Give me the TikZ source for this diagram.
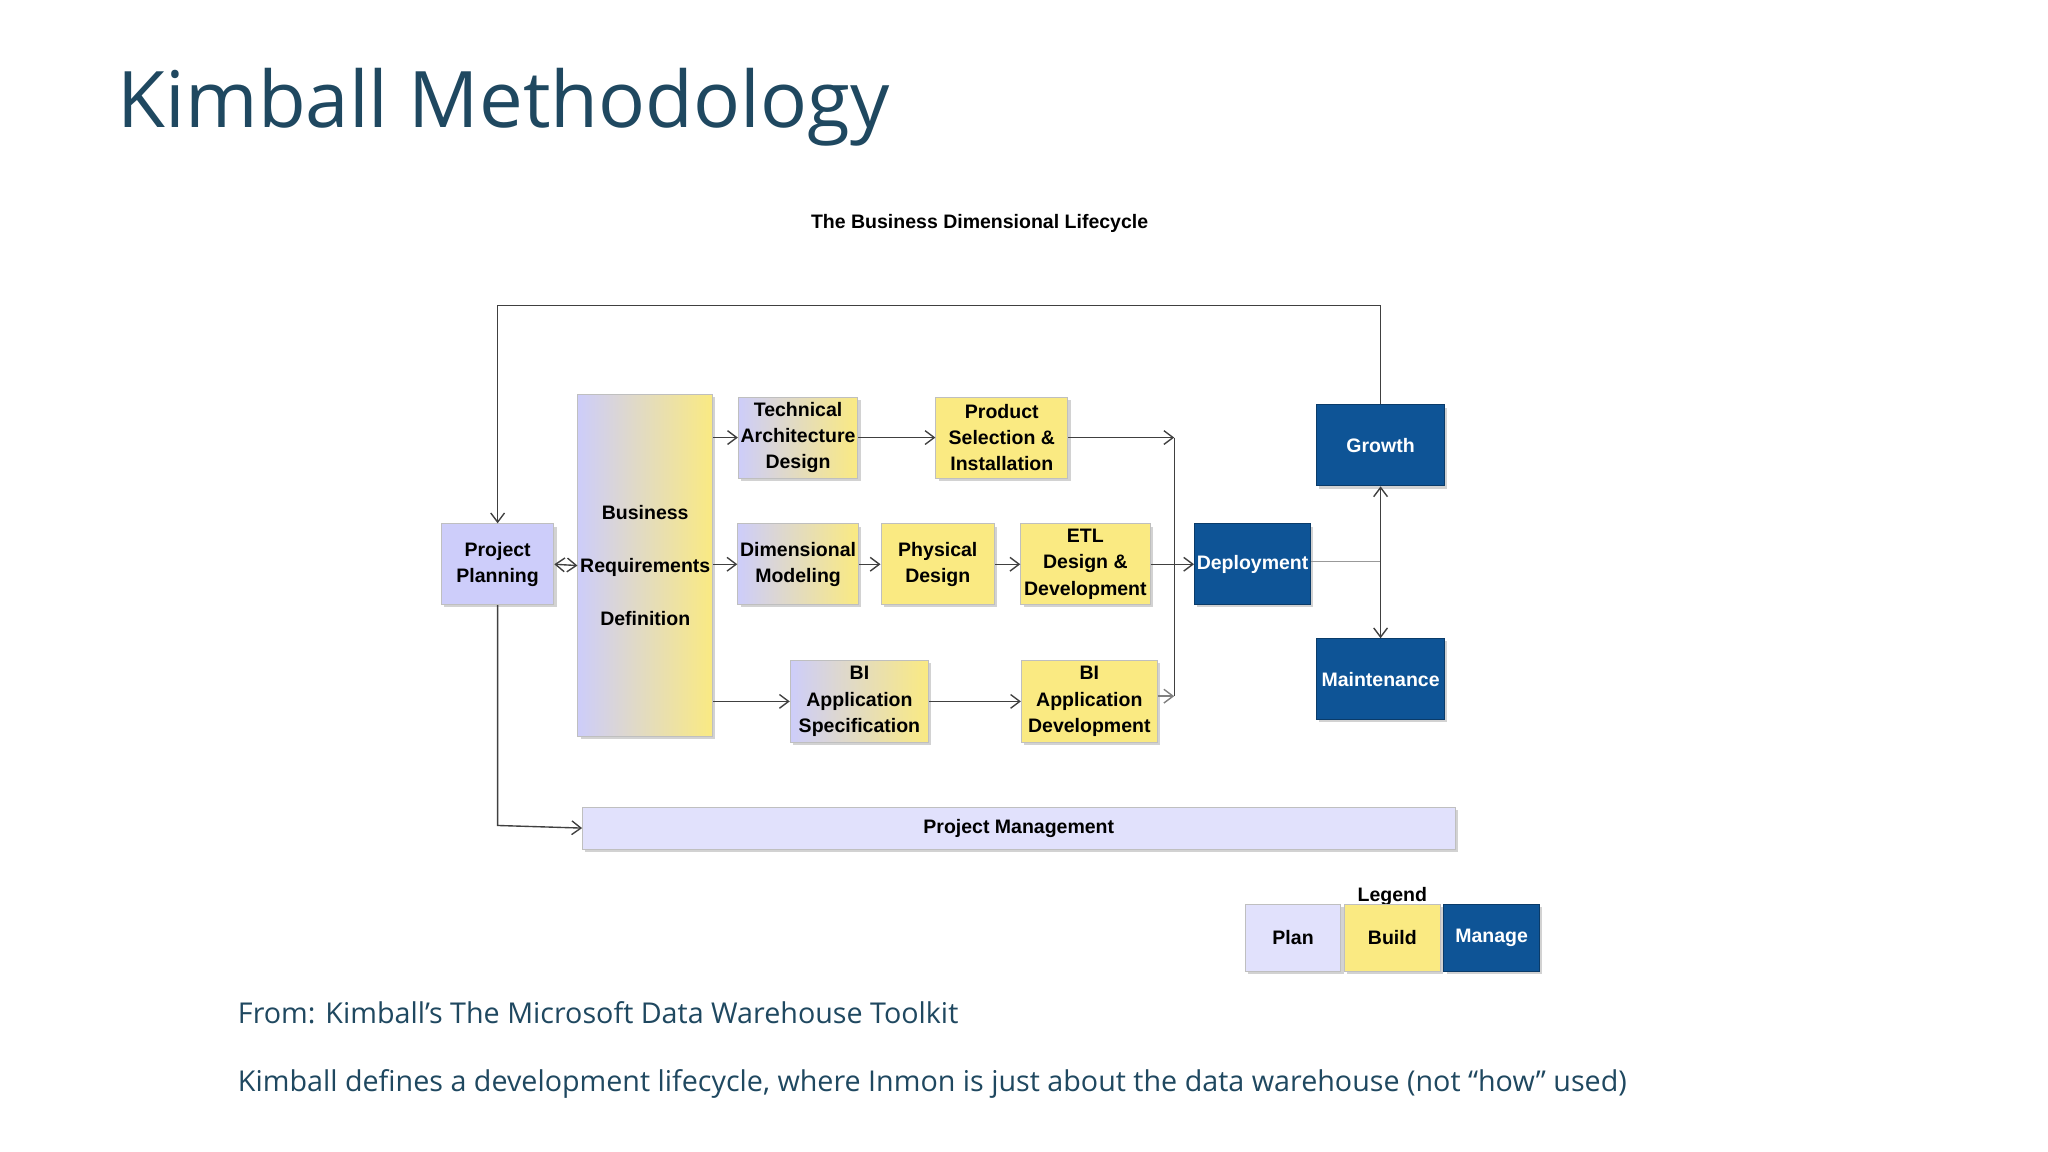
\documentclass[tikz,border=0pt]{standalone}
\usepackage{fontspec}
\setmainfont{Liberation Sans}
\newfontfamily\titlefont{Open Sans}
\usetikzlibrary{shadows,arrows.meta}
\definecolor{plan}{RGB}{205,205,250}
\definecolor{build}{RGB}{250,234,130}
\definecolor{manage}{RGB}{14,84,150}
\definecolor{titlec}{RGB}{31,72,96}
\tikzset{
 box/.style={draw=black!25,line width=0.4pt,align=center,font=\bfseries\fontsize{8.5}{11.5}\selectfont,inner sep=1pt,drop shadow={shadow xshift=1.2pt,shadow yshift=-1.2pt,opacity=0.35}},
 planbox/.style={box,fill=plan},
 mixbox/.style={box,left color=plan,right color=build},
 buildbox/.style={box,fill=build},
 managebox/.style={box,fill=manage,text=white,draw=manage!70!black},
 conn/.style={draw=black!75,line width=0.6pt,-{Straight Barb[length=4pt,width=6pt]}},
 plain/.style={draw=black!75,line width=0.6pt},
}
\begin{document}
\begin{tikzpicture}[x=0.02cm,y=-0.02cm]
\useasboundingbox[fill=white] (0,0) rectangle (1568,882);
\node[anchor=west,font=\titlefont\fontsize{34}{40}\selectfont,text=titlec] (title) at (84,82) {Kimball Methodology};
\node[font=\bfseries\fontsize{8.5}{10}\selectfont] (sub) at (750,171) {The Business Dimensional Lifecycle};
% nodes
\node[planbox,minimum width=86*0.02cm,minimum height=62*0.02cm] (pp) at (381,432) {Project\\Planning};
\node[mixbox,minimum width=96*0.02cm,minimum height=262*0.02cm,font=\bfseries\fontsize{8.5}{23}\selectfont] (brd) at (494,433) {Business\\Requirements\\Definition};
\node[mixbox,minimum width=88*0.02cm,minimum height=62*0.02cm] (ta) at (611,335) {Technical\\Architecture\\Design};
\node[buildbox,minimum width=101*0.02cm,minimum height=62*0.02cm] (ps) at (767,335) {Product\\Selection \&\\Installation};
\node[mixbox,minimum width=88*0.02cm,minimum height=62*0.02cm] (dm) at (611,432) {Dimensional\\Modeling};
\node[buildbox,minimum width=87*0.02cm,minimum height=62*0.02cm] (pd) at (718,432) {Physical\\Design};
\node[buildbox,minimum width=99*0.02cm,minimum height=62*0.02cm] (etl) at (831,432) {ETL\\Design \&\\Development};
\node[mixbox,minimum width=106*0.02cm,minimum height=63*0.02cm] (bis) at (658,537) {BI\\Application\\Specification};
\node[buildbox,minimum width=104*0.02cm,minimum height=63*0.02cm] (bid) at (834,537) {BI\\Application\\Development};
\node[managebox,minimum width=86*0.02cm,minimum height=62*0.02cm] (dep) at (959,432) {Deployment};
\node[managebox,minimum width=98*0.02cm,minimum height=62*0.02cm] (gr) at (1057,341) {Growth};
\node[managebox,minimum width=98*0.02cm,minimum height=62*0.02cm] (mt) at (1057,520) {Maintenance};
\node[box,fill=plan!60,minimum width=668*0.02cm,minimum height=32*0.02cm] (pm) at (780,634) {Project Management};
% legend
\node[font=\bfseries\fontsize{8.5}{10}\selectfont] (leg) at (1066,686) {Legend};
\node[box,fill=plan!60,minimum width=73*0.02cm,minimum height=51*0.02cm] (lp) at (990,718) {Plan};
\node[buildbox,minimum width=73*0.02cm,minimum height=51*0.02cm] (lb) at (1066,718) {Build};
\node[managebox,minimum width=73*0.02cm,minimum height=51*0.02cm] (lm) at (1142,718) {Manage};
% footer
\node[anchor=west,font=\titlefont\fontsize{12.5}{15}\selectfont,text=titlec] (f1) at (176,775) {From: Kimball’s The Microsoft Data Warehouse Toolkit};
\node[anchor=west,font=\titlefont\fontsize{12.5}{15}\selectfont,text=titlec] (f2) at (176,830) {Kimball defines a development lifecycle, where Inmon is just about the data warehouse (not “how” used)};
% connectors
\coordinate (c1) at (1057,234);
\coordinate (c2) at (381,234);
\draw[conn] (gr.north) -- (c1) -- (c2) -- (pp.north);
\draw[conn,{Straight Barb[length=4pt,width=6pt]}-{Straight Barb[length=4pt,width=6pt]}] (pp.east) -- (brd.west);
\coordinate (c3) at (381,632);
\draw[conn] (pp.south) -- (c3) -- (pm.west);
\draw[conn] (brd.east|-ta) -- (ta.west);
\draw[conn] (brd.east|-dm) -- (dm.west);
\draw[conn] (brd.east|-bis) -- (bis.west);
\draw[conn] (ta) -- (ps);
\draw[conn] (dm) -- (pd);
\draw[conn] (pd) -- (etl);
\draw[conn] (bis) -- (bid);
\coordinate (j1) at (899,335);
\coordinate (j2) at (899,533);
\draw[conn] (ps.east) -- (j1);
\draw[plain] (j1) -- (j2);
\draw[conn,draw=black!50] (bid.east|-j2) -- (j2);
\draw[conn] (etl) -- (dep);
\coordinate (j3) at (1057,430);
\draw[plain,draw=black!40] (dep.east|-j3) -- (j3);
\draw[conn] (j3) -- (gr.south);
\draw[conn] (j3) -- (mt.north);
\end{tikzpicture}
\end{document}
